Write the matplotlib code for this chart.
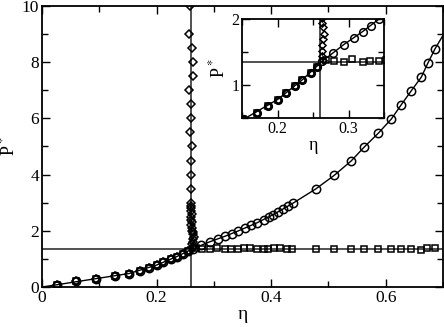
import matplotlib
matplotlib.use("Agg")
import matplotlib.pyplot as plt
from matplotlib.ticker import MultipleLocator, FuncFormatter

plt.rcParams['font.family'] = ['Liberation Serif', 'DejaVu Serif']
plt.rcParams['mathtext.fontset'] = 'stix'

# circles (fluid branch)
eta_c = [0.026, 0.059, 0.095, 0.127, 0.152, 0.171, 0.187, 0.200, 0.212, 0.225,
         0.235, 0.247, 0.255, 0.263, 0.278, 0.293, 0.307, 0.320, 0.331, 0.343,
         0.354, 0.365, 0.376, 0.387, 0.396, 0.404, 0.412, 0.420, 0.429, 0.438,
         0.478, 0.510, 0.540, 0.563, 0.587, 0.610, 0.627, 0.645, 0.662, 0.674, 0.686]
p_c = [0.08, 0.20, 0.30, 0.40, 0.48, 0.58, 0.68, 0.78, 0.88, 0.98,
       1.08, 1.18, 1.27, 1.36, 1.49, 1.61, 1.71, 1.81, 1.90, 2.00,
       2.10, 2.20, 2.29, 2.38, 2.48, 2.58, 2.68, 2.78, 2.88, 2.98,
       3.49, 3.97, 4.49, 4.99, 5.47, 5.98, 6.48, 6.99, 7.46, 7.98, 8.47]

# solid curve through the circles
eta_fit = [0.0, 0.026, 0.095, 0.152, 0.200, 0.235, 0.263, 0.293, 0.320, 0.343, 0.376,
           0.404, 0.438, 0.478, 0.510, 0.540, 0.563, 0.587, 0.610, 0.627, 0.645,
           0.662, 0.674, 0.686, 0.700]
p_fit = [0.0, 0.08, 0.30, 0.48, 0.78, 1.08, 1.36, 1.61, 1.81, 2.00, 2.29,
         2.58, 2.98, 3.49, 3.97, 4.49, 4.99, 5.47, 5.98, 6.48, 6.99,
         7.46, 7.98, 8.47, 8.95]

# squares (low density shared with circles, then plateau)
eta_s = [0.026, 0.059, 0.095, 0.127, 0.152, 0.171, 0.187, 0.200, 0.212, 0.225,
         0.235, 0.247, 0.255,
         0.268, 0.279, 0.293, 0.305, 0.320, 0.330, 0.343, 0.353, 0.364, 0.376,
         0.387, 0.394, 0.405, 0.416, 0.428, 0.436, 0.478, 0.510, 0.539, 0.563,
         0.586, 0.609, 0.626, 0.645, 0.661, 0.673, 0.686]
p_s = [0.08, 0.20, 0.30, 0.40, 0.48, 0.58, 0.68, 0.78, 0.88, 0.98,
       1.08, 1.18, 1.27,
       1.38, 1.37, 1.35, 1.39, 1.35, 1.36, 1.36, 1.38, 1.38, 1.36,
       1.34, 1.35, 1.40, 1.38, 1.37, 1.37, 1.36, 1.36, 1.36, 1.36,
       1.36, 1.34, 1.37, 1.36, 1.33, 1.39, 1.39]

# diamonds (low density shared with circles, then vertical branch)
eta_d = [0.026, 0.059, 0.095, 0.127, 0.152, 0.171, 0.187, 0.200, 0.212, 0.225,
         0.235, 0.247, 0.255,
         0.264, 0.263, 0.262, 0.263, 0.264, 0.266, 0.264, 0.263, 0.262, 0.262,
         0.261, 0.262, 0.260, 0.261, 0.262, 0.261, 0.260, 0.261, 0.261, 0.261,
         0.261, 0.261, 0.262, 0.259, 0.261, 0.260, 0.256, 0.263, 0.263, 0.262,
         0.257, 0.259]
p_d = [0.08, 0.20, 0.30, 0.40, 0.48, 0.58, 0.68, 0.78, 0.88, 0.98,
       1.08, 1.18, 1.27,
       1.38, 1.44, 1.52, 1.60, 1.70, 1.77, 1.88, 1.94, 2.01, 2.1,
       2.2, 2.3, 2.4, 2.5, 2.6, 2.7, 2.8, 2.9, 3.0, 3.5,
       4.0, 4.5, 5.0, 5.5, 6.0, 6.5, 7.0, 7.5, 8.0, 8.5,
       9.0, 10.0]

eta_crit = 0.26
p_coex = 1.35


def draw(ax, ms):
    ax.axhline(p_coex, color='#333333', lw=1.2, zorder=1)
    ax.axvline(eta_crit, color='#333333', lw=1.2, zorder=1)
    ax.plot(eta_fit, p_fit, '-', color='black', lw=1.0, zorder=2)
    ax.plot(eta_s, p_s, 's', mfc='none', mec='black', ms=ms * 0.8, mew=1.1, zorder=3)
    ax.plot(eta_c, p_c, 'o', mfc='none', mec='black', ms=ms, mew=1.1, zorder=3)
    ax.plot(eta_d, p_d, 'D', mfc='none', mec='black', ms=ms * 0.65, mew=1.1, zorder=3)
    ax.tick_params(which='both', direction='in', top=True, right=True)
    ax.tick_params(which='major', length=6, width=1)
    ax.tick_params(which='minor', length=4, width=1)
    for s in ax.spines.values():
        s.set_linewidth(1.3)


fig = plt.figure(figsize=(4.44, 3.27), dpi=100)
ax = fig.add_axes([0.0946, 0.1223, 0.9030, 0.8594])
draw(ax, 6)
ax.set_xlim(0, 0.7)
ax.set_ylim(0, 10)
ax.xaxis.set_major_locator(MultipleLocator(0.2))
ax.xaxis.set_minor_locator(MultipleLocator(0.1))
ax.yaxis.set_major_locator(MultipleLocator(2))
ax.yaxis.set_minor_locator(MultipleLocator(1))
ax.xaxis.set_major_formatter(FuncFormatter(lambda v, p: f'{v:g}'))
ax.tick_params(labelsize=12.5, pad=2)
ax.set_xlabel('η', fontsize=14, labelpad=0)
ax.set_ylabel(r'P$^*$', fontsize=13)
ax.yaxis.set_label_coords(-0.058, 0.5)

ins = fig.add_axes([0.545, 0.639, 0.320, 0.303])
draw(ins, 5.5)
ins.set_xlim(0.15, 0.35)
ins.set_ylim(0.5, 2.0)
ins.xaxis.set_major_locator(MultipleLocator(0.1))
ins.xaxis.set_minor_locator(MultipleLocator(0.05))
ins.yaxis.set_major_locator(MultipleLocator(1))
ins.yaxis.set_minor_locator(MultipleLocator(0.5))
ins.tick_params(labelsize=11.5, pad=2)
ins.set_xlabel('η', fontsize=13, labelpad=0)
ins.set_ylabel(r'P$^*$', fontsize=13, labelpad=2)

fig.savefig('out.png', dpi=100)
